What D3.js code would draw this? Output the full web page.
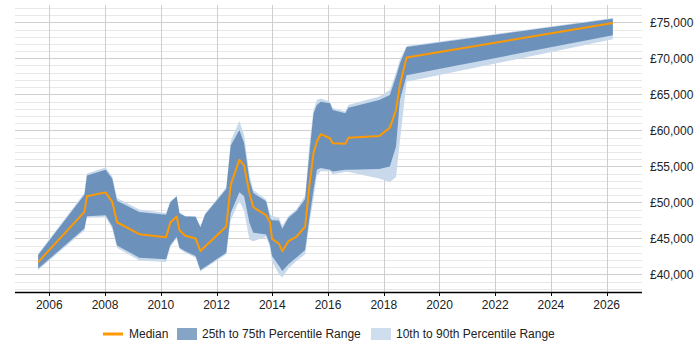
<!DOCTYPE html>
<html>
<head>
<meta charset="utf-8">
<script src="https://cdn.jsdelivr.net/npm/d3@7"></script>
<style>
  body { margin: 0; background: #fff; }
  svg { font-family: "Liberation Sans", Arial, sans-serif; }
</style>
</head>
<body>
<svg id="chart"></svg>
<script>
// decimal years of each observation
const years = [2005.6, 2007.26, 2007.35, 2008.02, 2008.26, 2008.43, 2009.23, 2010.19, 2010.34, 2010.57,
  2010.67, 2010.88, 2011.25, 2011.42, 2011.59, 2012.35, 2012.51, 2012.82, 2012.99, 2013.18,
  2013.32, 2013.78, 2013.92, 2013.99, 2014.24, 2014.36, 2014.58, 2014.86, 2015.18, 2015.33,
  2015.48, 2015.6, 2015.74, 2016.07, 2016.17, 2016.62, 2016.73, 2017.84, 2018.22, 2018.44,
  2018.58, 2018.82, 2026.22];
const p10 = [40600, 46100, 47900, 48000, 46300, 43700, 41900, 41700, 43800, 45000,
  43500, 43000, 42300, 40400, 40850, 42800, 47500, 50200, 48800, 44800,
  44600, 45200, 43700, 41800, 40000, 39540, 40800, 41800, 42800, 47000,
  50500, 53700, 54300, 54300, 53900, 54200, 54200, 53300, 52820, 53500,
  58500, 66740, 72640];
const p25 = [40790, 46360, 48060, 48200, 46680, 44010, 42310, 42080, 44050, 45210,
  43690, 43200, 42530, 40590, 41030, 43000, 48530, 51380, 50830, 47150,
  45770, 45530, 44150, 42530, 41200, 40460, 41380, 42300, 43360, 47740,
  51760, 54520, 54760, 54520, 54290, 54520, 54520, 54620, 54980, 57740,
  64200, 67660, 73190];
const median = [41700, 48670, 50830, 51380, 50050, 47230, 45570, 45160, 47150, 48020,
  46130, 45350, 44980, 43220, 43850, 46640, 52450, 55900, 55120, 51300,
  49310, 48200, 47230, 44940, 44250, 43220, 44610, 45210, 46600, 52210,
  56830, 58440, 59460, 58900, 58210, 58120, 58950, 59220, 60370, 62820,
  66280, 70110, 74890];
const p75 = [42670, 51060, 53730, 54520, 53280, 50230, 48670, 48260, 50000, 50790,
  48480, 48020, 47980, 46540, 48300, 51850, 57880, 60050, 58210, 53140,
  51300, 50140, 47800, 47500, 47470, 46320, 47840, 48760, 50470, 56600,
  62360, 63510, 63970, 63740, 62820, 62360, 63140, 64200, 64890, 67430,
  69280, 71580, 75500];
const p90 = [42850, 51300, 54000, 54850, 53600, 50600, 49000, 48500, 50100, 50900,
  48600, 48100, 48050, 46600, 48400, 52100, 58500, 61300, 59300, 53800,
  51700, 50400, 48400, 48100, 47900, 46700, 48100, 49000, 50900, 58000,
  62800, 64200, 64430, 64000, 63100, 62600, 63500, 64700, 65600, 68000,
  69800, 71700, 75600];
const xTicks = [2006, 2008, 2010, 2012, 2014, 2016, 2018, 2020, 2022, 2024, 2026];
const yTicks = [40000, 45000, 50000, 55000, 60000, 65000, 70000, 75000];
const legendLabels = ["Median", "25th to 75th Percentile Range", "10th to 90th Percentile Range"];

const width = 700;
const height = 350;
const plot = { left: 15, right: 642, top: 5, bottom: 292 };

const rows = years.map((y, i) => ({
  year: y, p10: p10[i], p25: p25[i], median: median[i], p75: p75[i], p90: p90[i],
}));

const x = d3.scaleLinear([2006, 2026], [49.3, 606.7]);
const y = d3.scaleLinear([40000, 75000], [274.3, 22.3]);

const svg = d3.select("#chart").attr("width", width).attr("height", height);

// minor + major horizontal grid
const gridVals = d3.range(38000, 77001, 1000);
svg.append("g")
  .selectAll("line")
  .data(gridVals)
  .join("line")
  .attr("x1", plot.left)
  .attr("x2", plot.right)
  .attr("y1", (d) => Math.round(y(d)) + 0.5)
  .attr("y2", (d) => Math.round(y(d)) + 0.5)
  .attr("stroke", (d) => (d % 5000 === 0 ? "#cfcfcf" : "#e8e8e8"))
  .attr("stroke-width", 1);

// vertical grid
svg.append("g")
  .selectAll("line")
  .data(xTicks)
  .join("line")
  .attr("x1", (d) => Math.round(x(d)) + 0.5)
  .attr("x2", (d) => Math.round(x(d)) + 0.5)
  .attr("y1", plot.top)
  .attr("y2", plot.bottom)
  .attr("stroke", "#cfcfcf");

const area = (lo, hi) =>
  d3.area()
    .x((d) => x(d.year))
    .y0((d) => y(d[lo]))
    .y1((d) => y(d[hi]));

svg.append("path")
  .datum(rows)
  .attr("d", area("p10", "p90"))
  .attr("fill", "#c8d9ec");

svg.append("path")
  .datum(rows)
  .attr("d", area("p25", "p75"))
  .attr("fill", "#6c92bb");

svg.append("path")
  .datum(rows)
  .attr("d", d3.line().x((d) => x(d.year)).y((d) => y(d.median)))
  .attr("fill", "none")
  .attr("stroke", "#ff9900")
  .attr("stroke-width", 2)
  .attr("stroke-linejoin", "round");

// x axis
const xAxis = svg.append("g").attr("transform", `translate(0,${plot.bottom})`);
xAxis.append("line")
  .attr("x1", plot.left)
  .attr("x2", plot.right)
  .attr("y1", 0.5)
  .attr("y2", 0.5)
  .attr("stroke", "#000")
  .attr("stroke-width", 1.5);
xAxis.selectAll("line.tick")
  .data(xTicks)
  .join("line")
  .attr("class", "tick")
  .attr("x1", (d) => Math.round(x(d)) + 0.5)
  .attr("x2", (d) => Math.round(x(d)) + 0.5)
  .attr("y1", 0)
  .attr("y2", 4)
  .attr("stroke", "#000");
xAxis.selectAll("text")
  .data(xTicks)
  .join("text")
  .attr("x", (d) => x(d))
  .attr("y", 17)
  .attr("text-anchor", "middle")
  .attr("font-size", 12)
  .attr("fill", "#222")
  .text((d) => d);

// y labels on the right
const fmt = d3.format(",");
svg.append("g")
  .selectAll("text")
  .data(yTicks)
  .join("text")
  .attr("x", 650)
  .attr("y", (d) => y(d))
  .attr("dy", "0.35em")
  .attr("font-size", 12)
  .attr("fill", "#222")
  .text((d) => "£" + fmt(d));

// legend
const legend = svg.append("g").attr("transform", "translate(0,334)");
legend.append("line")
  .attr("x1", 103).attr("x2", 123)
  .attr("y1", 0).attr("y2", 0)
  .attr("stroke", "#ff9900").attr("stroke-width", 3);
legend.append("text").attr("x", 129).attr("y", 0).attr("dy", "0.35em")
  .attr("font-size", 12).attr("fill", "#222").text(legendLabels[0]);
legend.append("rect").attr("x", 177).attr("y", -6).attr("width", 20).attr("height", 12)
  .attr("fill", "#86a4c5");
legend.append("text").attr("x", 202).attr("y", 0).attr("dy", "0.35em")
  .attr("font-size", 12).attr("fill", "#222").text(legendLabels[1]);
legend.append("rect").attr("x", 371).attr("y", -6).attr("width", 20).attr("height", 12)
  .attr("fill", "#cfdeef");
legend.append("text").attr("x", 396).attr("y", 0).attr("dy", "0.35em")
  .attr("font-size", 12).attr("fill", "#222").text(legendLabels[2]);
</script>
</body>
</html>
